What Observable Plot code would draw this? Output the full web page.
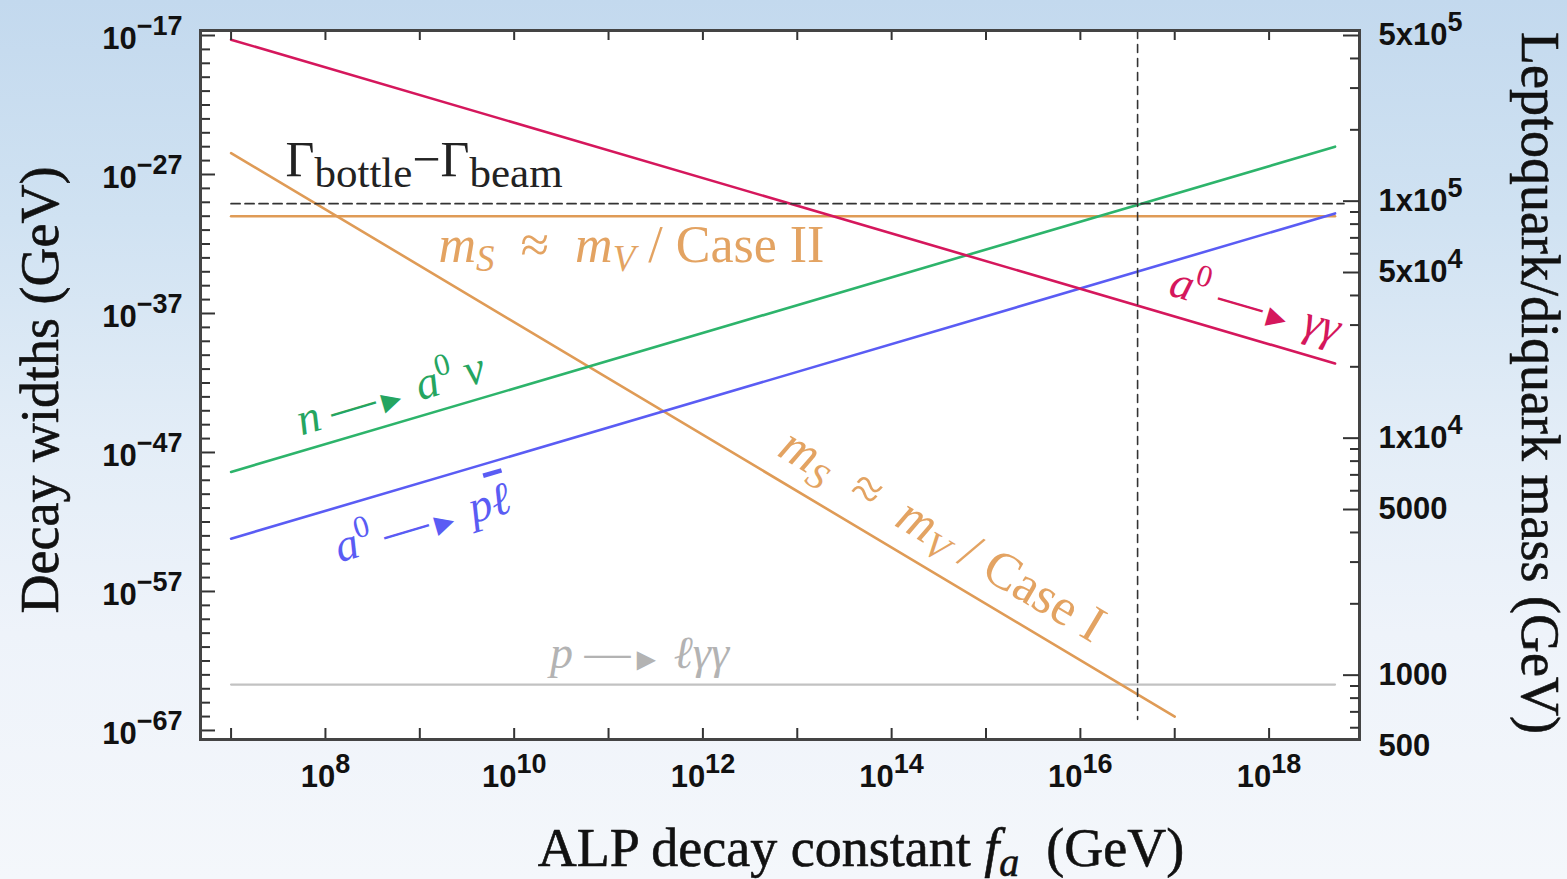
<!DOCTYPE html>
<html><head><meta charset="utf-8">
<script src="https://cdn.jsdelivr.net/npm/d3@7"></script>
<script src="https://cdn.jsdelivr.net/npm/@observablehq/plot@0.6"></script>
<style>
html,body{margin:0;padding:0;width:1567px;height:879px;overflow:hidden;
background:linear-gradient(to bottom,#c3d9ee 0%,#d0e2f2 25%,#e3edf7 50%,#eef3fa 72%,#f4f7fb 100%);}
#wrap{position:relative;width:1567px;height:879px;}
#wrap svg{position:absolute;left:0;top:0;}
</style></head><body><div id="wrap"></div>
<script>
// ---------------- data ----------------
// ALP decay constant f_a (GeV) end points of the curves
const faFull = [1e7, 5e18];
const faCaseI = [1e7, 1e17];
const faBottle = [1e7, 6.2e18];
const faVertical = [4.04e16, 4.04e16];
// decay widths (GeV)
const widthGammaGamma = [10 ** -17.3, 10 ** -40.6];   // a0 -> γγ
const widthNeutron = [10 ** -48.4, 10 ** -25.0];      // n -> a0 ν
const widthProton = [10 ** -53.2, 10 ** -29.8];       // a0 -> p ℓ̄
const widthCaseI = [10 ** -25.46, 10 ** -66.0];       // mS ≈ mV / Case I
const widthCaseII = [1e-30, 1e-30];                    // mS ≈ mV / Case II
const widthLeptonGG = [10 ** -63.7, 10 ** -63.7];     // p -> ℓγγ
const widthBottleBeam = [10 ** -29.1, 10 ** -29.1];   // Γbottle − Γbeam
const widthVertical = [10 ** -16.64, 10 ** -66.2];

// axes
const xTickDecades = [7, 8, 9, 10, 11, 12, 13, 14, 15, 16, 17, 18];
const xLabelDecades = [8, 10, 12, 14, 16, 18];
const xTickLabels = ["10^8", "10^10", "10^12", "10^14", "10^16", "10^18"];
const yTickDecades = d3.range(-17, -68, -1);
const yLabelDecades = [-17, -27, -37, -47, -57, -67];
const yTickLabels = ["10^−17", "10^−27", "10^−37", "10^−47", "10^−57", "10^−67"];
const massLabelValues = [5e5, 1e5, 5e4, 1e4, 5000, 1000, 500];
const massTickLabels = ["5x10^5", "1x10^5", "5x10^4", "1x10^4", "5000", "1000", "500"];
const massLongTicks = [5e5, 1e5, 5e4, 1e4, 5000, 1000];
const massShortTicks = [600, 700, 800, 900, 2000, 3000, 4000, 6000, 7000, 8000, 9000,
  20000, 30000, 40000, 60000, 70000, 80000, 90000, 200000, 300000, 400000];

// ---------------- layout ----------------
const W = 1567, H = 879;
const mL = 200, mR = 208, mT = 30, mB = 140;
const FW = W - mL - mR, FH = H - mT - mB;

const C = {red: "#d5175c", orange: "#df9b56", orangeText: "#e3a362", green: "#2db46b",
  blue: "#5a5cf4", gray: "#c2c2c2", grayText: "#b3b3b3", ink: "#222"};
const SERIF = "'Liberation Serif','Times New Roman',Times,serif";
const SANS = "'Liberation Sans',Arial,Helvetica,sans-serif";

const I = s => `<tspan font-style="italic">${s}</tspan>`;
const ARROW = ` —<tspan font-size="32" dy="2">►</tspan><tspan dy="-2"> </tspan>`;
const SUP0 = `<tspan font-size="31" dy="-18">0</tspan><tspan dy="18">`;
const MSMV = `${I("m")}<tspan font-style="italic" font-size="37" dy="9">S</tspan><tspan dy="-9">  ≈  </tspan>${I("m")}<tspan font-style="italic" font-size="37" dy="9">V</tspan>`;

const annotations = [
  {fa: 10 ** 7.577, w: 10 ** -25.95, color: C.ink, size: 50, rotate: 0, anchor: "start",
   text: `Γ<tspan font-size="43" dy="11">bottle</tspan><tspan dy="-11">−Γ</tspan><tspan font-size="43" dy="11">beam</tspan>`},
  {fa: 10 ** 11.243, w: 10 ** -32.12, color: C.orangeText, size: 52, rotate: 0, anchor: "middle",
   text: `${MSMV}<tspan dy="-9"> / Case II</tspan>`},
  {fa: 10 ** 14.539, w: 10 ** -52.92, color: C.orangeText, size: 52, rotate: 30.8, anchor: "middle",
   text: `${MSMV}<tspan dy="-9"> / Case I</tspan>`},
  {fa: 10 ** 8.689, w: 10 ** -42.79, color: "#25a560", size: 46, rotate: -16.4, anchor: "middle",
   text: `${I("n")}${ARROW}${I("a")}${SUP0} </tspan>${I("ν")}`},
  {fa: 10 ** 9.028, w: 10 ** -52.06, color: C.blue, size: 46, rotate: -16.4, anchor: "middle",
   text: `${I("a")}${SUP0}${ARROW}</tspan>${I("p")}<tspan font-style="italic" text-decoration="overline">ℓ</tspan>`},
  {fa: 10 ** 17.856, w: 10 ** -36.4, color: C.red, size: 46, rotate: 16.3, anchor: "middle",
   text: `${I("a")}${SUP0}${ARROW}</tspan>${I("γγ")}`},
  {fa: 10 ** 11.328, w: 10 ** -61.47, color: C.grayText, size: 46, rotate: 0, anchor: "middle",
   text: `${I("p")}${ARROW}${I("ℓγγ")}`}
];

const fmtPow = s => s.includes("^") ? s.replace(/\^(.*)$/, `<tspan font-size="27" dy="-14">$1</tspan>`) : s;

const series = (xs, ys) => d3.zip(xs, ys).map(([fa, w]) => ({fa, w}));
const lineOpts = (stroke, extra = {}) => ({x: "fa", y: "w", stroke, strokeWidth: 2.6, ...extra});
const titleStyle = {fontSize: 54, fontFamily: SERIF, fill: "#111", stroke: "#111", strokeWidth: 0.6};

const main = Plot.plot({
  width: W, height: H,
  marginLeft: mL, marginRight: mR, marginTop: mT, marginBottom: mB,
  style: {background: "transparent", overflow: "visible"},
  x: {type: "log", domain: [10 ** 6.676, 10 ** 18.958], axis: null},
  y: {type: "log", domain: [10 ** -67.65, 10 ** -16.64], axis: null},
  marks: [
    Plot.frame({fill: "white", stroke: null}),
    Plot.line(series(faFull, widthLeptonGG), lineOpts(C.gray, {strokeWidth: 2.2})),
    Plot.line(series(faFull, widthCaseII), lineOpts(C.orange)),
    Plot.line(series(faCaseI, widthCaseI), lineOpts(C.orange)),
    Plot.line(series(faFull, widthNeutron), lineOpts(C.green)),
    Plot.line(series(faFull, widthProton), lineOpts(C.blue)),
    Plot.line(series(faFull, widthGammaGamma), lineOpts(C.red)),
    Plot.line(series(faBottle, widthBottleBeam), lineOpts("#333", {strokeWidth: 1.8, strokeDasharray: "9,5"})),
    Plot.line(series(faVertical, widthVertical), lineOpts("#333", {strokeWidth: 1.6, strokeDasharray: "8,6"})),
    // ticks (inward)
    Plot.tickX(xTickDecades, {x: d => 10 ** d, stroke: "#333", strokeWidth: 2, insetTop: FH - 11}),
    Plot.tickX(xTickDecades, {x: d => 10 ** d, stroke: "#333", strokeWidth: 2, insetBottom: FH - 10}),
    Plot.tickY(yTickDecades.filter(d => !yLabelDecades.includes(d)), {y: d => 10 ** d, stroke: "#333", strokeWidth: 2, insetRight: FW - 10}),
    Plot.tickY(yLabelDecades, {y: d => 10 ** d, stroke: "#333", strokeWidth: 2, insetRight: FW - 15}),
    // tick labels
    Plot.text(xLabelDecades, {x: d => 10 ** d, text: (d, i) => fmtPow(xTickLabels[i]), frameAnchor: "bottom",
      dy: 47, fontSize: 31, fontWeight: "bold", fontFamily: SANS, fill: "#111"}),
    Plot.text(yLabelDecades, {y: d => 10 ** d, text: (d, i) => fmtPow(yTickLabels[i]), frameAnchor: "left",
      dx: -18, dy: 4, textAnchor: "end", fontSize: 31, fontWeight: "bold", fontFamily: SANS, fill: "#111"}),
    // annotations
    ...annotations.map(a => Plot.text([a], {x: "fa", y: "w", text: "text", fill: a.color, fontSize: a.size,
      rotate: a.rotate, textAnchor: a.anchor, fontFamily: SERIF})),
    // axis titles
    Plot.text(["ALP decay constant <tspan font-style=\"italic\">f</tspan><tspan font-style=\"italic\" font-size=\"40\" dy=\"10\">a</tspan><tspan dy=\"-10\">  (GeV)</tspan>"],
      {text: d => d, frameAnchor: "bottom", textAnchor: "middle", dx: 81, dy: 126, ...titleStyle}),
    Plot.text(["Decay widths (GeV)"], {text: d => d, frameAnchor: "left", textAnchor: "middle", lineAnchor: "middle",
      rotate: -90, dx: -160, dy: 5, ...titleStyle}),
    Plot.text(["Leptoquark/diquark mass (GeV)"], {text: d => d, frameAnchor: "right", textAnchor: "middle", lineAnchor: "middle",
      rotate: 90, dx: 180, dy: -2, ...titleStyle}),
    Plot.frame({stroke: "#444", strokeWidth: 3})
  ]
});

const right = Plot.plot({
  width: W, height: H,
  marginLeft: mL, marginRight: mR, marginTop: 35, marginBottom: 133,
  style: {background: "transparent", overflow: "visible"},
  y: {type: "log", domain: [500, 5e5], axis: null},
  marks: [
    Plot.tickY(massShortTicks, {y: d => d, stroke: "#333", strokeWidth: 2, insetLeft: FW - 9}),
    Plot.tickY(massLongTicks, {y: d => d, stroke: "#333", strokeWidth: 2, insetLeft: FW - 16}),
    Plot.text(massLabelValues, {y: d => d, text: (d, i) => fmtPow(massTickLabels[i]), frameAnchor: "right",
      dx: 19, textAnchor: "start", fontSize: 31, fontWeight: "bold", fontFamily: SANS, fill: "#111"})
  ]
});

const wrap = document.getElementById("wrap");
wrap.append(main, right);

// turn the inline markup into real SVG tspans
for (const svg of [main, right]) {
  svg.querySelectorAll("text").forEach(t => {
    const nodes = t.querySelectorAll("tspan").length ? [...t.querySelectorAll("tspan")] : [t];
    for (const n of nodes) {
      const s = n.textContent;
      if (s.includes("<tspan")) n.innerHTML = s;
    }
  });
}
</script></body></html>
